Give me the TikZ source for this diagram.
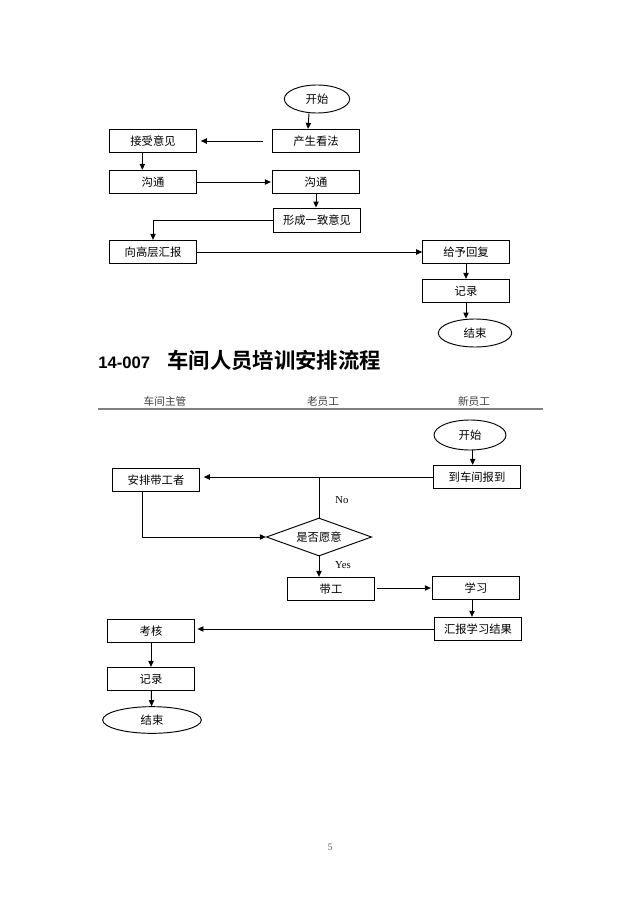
\documentclass[tikz,border=0pt]{standalone}
\usepackage{fontspec}
\setmainfont{Liberation Serif}
\newfontfamily\cjk{Noto Sans CJK SC}
\newfontfamily\cjkbold{Noto Sans CJK SC Bold}
\newfontfamily\titlesans{Liberation Sans}
\usetikzlibrary{shapes.geometric,arrows.meta}

\begin{document}
\begin{tikzpicture}[x=0.75pt, y=-0.75pt,
    box/.style={draw, line width=0.7pt, inner sep=0pt, minimum width=65pt, minimum height=17.5pt, font=\cjk\fontsize{8.5}{10}\selectfont},
    oval/.style={draw, ellipse, line width=0.7pt, inner sep=0pt, minimum height=21pt, font=\cjk\fontsize{8.5}{10}\selectfont},
    dec/.style={draw, diamond, shape aspect=2.8, line width=0.7pt, inner sep=0pt, minimum width=79pt, minimum height=28.5pt, font=\cjk\fontsize{8.5}{10}\selectfont},
    head/.style={inner sep=0pt, text=black!75, font=\cjk\fontsize{8}{10}\selectfont},
    lbl/.style={inner sep=0pt, font=\fontsize{8}{10}\selectfont},
    arr/.style={-{Triangle[length=4.5pt,width=4pt]}, line width=0.7pt},
    conn/.style={line width=0.7pt}]
    \fill[white] (0,0) rectangle (640,906);
    \useasboundingbox (0,0) rectangle (640,906);
    % first chart
    \node[oval, minimum width=49pt] (start1) at (317,99) {开始};
    \node[box] (idea) at (316,141) {产生看法};
    \node[box] (accept) at (153,141) {接受意见};
    \node[box] (talk1) at (153,182) {沟通};
    \node[box] (talk2) at (316,182) {沟通};
    \node[box, minimum height=18pt] (agree) at (317,220) {形成一致意见};
    \node[box] (report) at (153,252) {向高层汇报};
    \node[box] (reply) at (466,252) {给予回复};
    \node[box] (record1) at (466,291) {记录};
    \node[oval, minimum width=55pt] (end1) at (475,333) {结束};
    \draw[arr] ([xshift=-6pt]start1.south) -- ([xshift=-6pt]idea.north);
    \draw[arr, shorten <=7pt, shorten >=3pt] (idea.west) -- (accept.east);
    \draw[arr] ([xshift=-8pt]accept.south) -- ([xshift=-8pt]talk1.north);
    \draw[arr, shorten >=1pt] (talk1.east) -- (talk2.west);
    \draw[arr] (talk2.south) -- (talk2.south |- agree.north);
    \draw[arr] (agree.west) -| (report.north);
    \draw[arr] (report.east) -- (reply.west);
    \draw[arr] (reply) -- (record1);
    \draw[arr] (record1.south) -- (record1.south |- end1.north);
    % title and lanes
    \node[anchor=west, inner sep=0pt] (title) at (98,360) {{\titlesans\bfseries\fontsize{12.5}{15}\selectfont 14-007}\hspace{13pt}{\cjkbold\fontsize{16}{19}\selectfont 车间人员培训安排流程}};
    \node[head] (lane1) at (165,401) {车间主管};
    \node[head] (lane2) at (323,401) {老员工};
    \node[head] (lane3) at (474,401) {新员工};
    \draw[gray, line width=1pt] (98,409) -- (543,409);
    % second chart
    \node[oval, minimum width=54pt, minimum height=22.5pt] (start2) at (470,435) {开始};
    \node[box] (arrive) at (477,477) {到车间报到};
    \node[box] (assign) at (156,480) {安排带工者};
    \node[dec] (willing) at (319,537) {是否愿意};
    \node[box] (mentor) at (331,589) {带工};
    \node[box] (learn) at (476,588) {学习};
    \node[box] (result) at (478,629) {汇报学习结果};
    \node[box] (exam) at (151,631) {考核};
    \node[box] (record2) at (151,679) {记录};
    \node[oval, minimum width=74pt, minimum height=20pt] (end2) at (152,720) {结束};
    \node[lbl] (no) at (342,500) {No};
    \node[lbl] (yes) at (343,565) {Yes};
    \draw[arr] ([xshift=2pt]start2.south) -- ([xshift=2pt]start2.south |- arrive.north);
    \draw[arr, shorten >=3pt] (arrive.west) -- (arrive.west -| assign.east);
    \draw[conn] (willing.north) -- (willing.north |- arrive.west);
    \draw[arr] ([xshift=-10pt]assign.south) |- (willing.west);
    \draw[arr] (willing.south) -- (willing.south |- mentor.north);
    \draw[arr, shorten <=2pt, shorten >=1pt] (learn.west -| mentor.east) -- (learn.west);
    \draw[arr] ([xshift=-3pt]learn.south) -- ([xshift=-3pt]learn.south |- result.north);
    \draw[arr, shorten >=2pt] (result.west) -- (result.west -| exam.east);
    \draw[arr] (exam) -- (record2);
    \draw[arr] (record2) -- (end2);
    \node[inner sep=0pt, text=black!60, font=\fontsize{7.5}{8}\selectfont] (pagenum) at (330,847) {5};
\end{tikzpicture}
\end{document}
